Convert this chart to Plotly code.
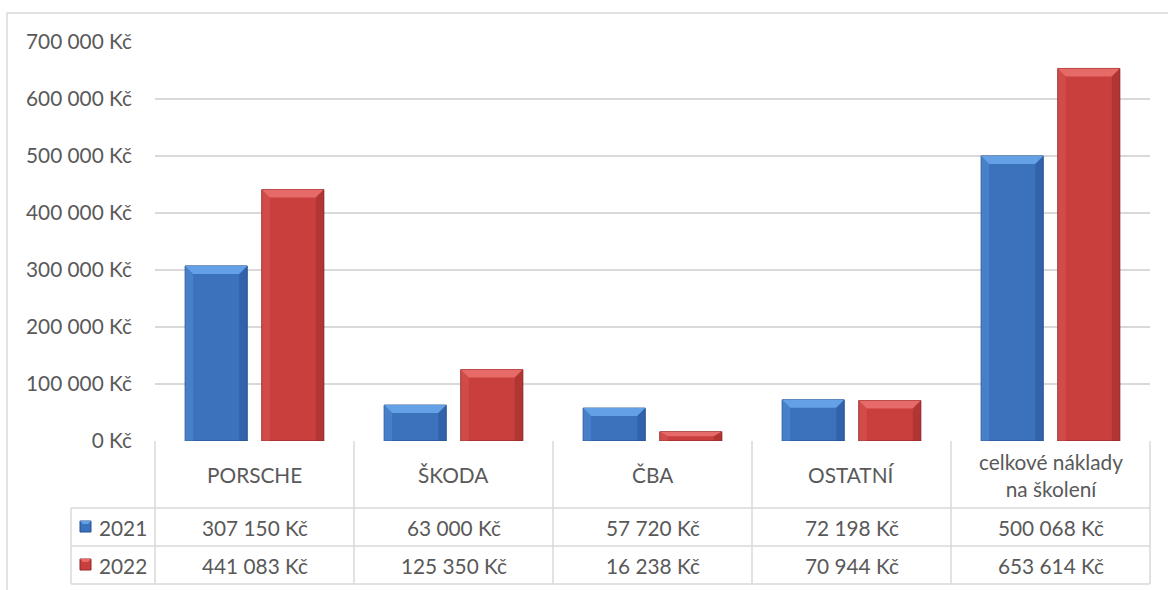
import plotly.graph_objects as go

W, H = 1168, 590

categories = ["PORSCHE", "ŠKODA", "ČBA", "OSTATNÍ", "celkové náklady<br>na školení"]
years = ["2021", "2022"]
values_2021 = [307150, 63000, 57720, 72198, 500068]
values_2022 = [441083, 125350, 16238, 70944, 653614]
y_ticks = [0, 100000, 200000, 300000, 400000, 500000, 600000, 700000]

FACE = {"2021": "#3c71bc", "2022": "#c93f3d"}
LIGHT = {"2021": "#64a0e6", "2022": "#e56a68"}
DARK = {"2021": "#24508f", "2022": "#8e2826"}
GRID = "#d9d9d9"
TEXT = "#595959"
FONT = dict(family="Lato", size=20.8, color=TEXT)

BARGAP = 0.23
GROUPGAP = 0.19

# plot area in pixels
PX_L, PX_R = 155, 1150
PX_TOP, PX_ZERO = 42, 441
ROW1, ROW2, ROW3 = 508, 546, 584
KEY_L = 71


def fx(x):
    return x / W


def fy(y):
    return 1 - y / H


def money(v):
    return f"{v:,}".replace(",", " ") + " Kč"


fig = go.Figure()
series = {"2021": values_2021, "2022": values_2022}
for yr in years:
    fig.add_trace(go.Bar(
        x=list(range(len(categories))),
        y=series[yr],
        name=yr,
        marker=dict(color=FACE[yr], line=dict(color=DARK[yr], width=1)),
        hoverinfo="y"
    ))

shapes = []

# bevel decoration on each bar
slot = (1 - BARGAP) / 2
bar_w = slot * (1 - GROUPGAP)
bev_x = 8 / ((PX_R - PX_L) / len(categories))
bev_y = 8 * 700000 / (PX_ZERO - PX_TOP)
for k, yr in enumerate(years):
    for i, v in enumerate(series[yr]):
        c = i + (k - 0.5) * slot
        x0, x1 = c - bar_w / 2, c + bar_w / 2
        b = min(bev_y, v / 2)
        bx = min(bev_x, bar_w / 4)
        # top facet
        shapes.append(dict(
            type="path", xref="x", yref="y", layer="above", line=dict(width=0),
            fillcolor=LIGHT[yr],
            path=f"M {x0},{v} L {x1},{v} L {x1 - bx},{v - b} L {x0 + bx},{v - b} Z"))
        # right facet
        shapes.append(dict(
            type="path", xref="x", yref="y", layer="above", line=dict(width=0),
            fillcolor=DARK[yr], opacity=0.4,
            path=f"M {x1},{v} L {x1},0 L {x1 - bx},0 L {x1 - bx},{v - b} Z"))
        # left facet
        shapes.append(dict(
            type="path", xref="x", yref="y", layer="above", line=dict(width=0),
            fillcolor=LIGHT[yr], opacity=0.3,
            path=f"M {x0},{v} L {x0},0 L {x0 + bx},0 L {x0 + bx},{v - b} Z"))

# outer chart frame
shapes.append(dict(type="rect", xref="paper", yref="paper",
                   x0=fx(7), x1=fx(W + 20), y0=fy(H + 20), y1=fy(13),
                   line=dict(color=GRID, width=1.5), layer="below"))

# data table lines
line = dict(color=GRID, width=1.5)
col_w = (PX_R - PX_L) / len(categories)
for j in range(len(categories) + 1):
    xp = PX_L + j * col_w
    shapes.append(dict(type="line", xref="paper", yref="paper",
                       x0=fx(xp), x1=fx(xp), y0=fy(PX_ZERO), y1=fy(ROW3), line=line))
shapes.append(dict(type="line", xref="paper", yref="paper",
                   x0=fx(KEY_L), x1=fx(KEY_L), y0=fy(ROW1), y1=fy(ROW3), line=line))
for yp in (ROW1, ROW2, ROW3):
    shapes.append(dict(type="line", xref="paper", yref="paper",
                       x0=fx(KEY_L), x1=fx(PX_R), y0=fy(yp), y1=fy(yp), line=line))

annotations = []
for j, cat in enumerate(categories):
    cx = PX_L + (j + 0.5) * col_w
    annotations.append(dict(x=fx(cx), y=fy((PX_ZERO + ROW1) / 2), xref="paper", yref="paper",
                            xanchor="center", yanchor="middle",
                            text=cat, showarrow=False, font=FONT, align="center"))
    for yr, (r0, r1) in zip(years, [(ROW1, ROW2), (ROW2, ROW3)]):
        annotations.append(dict(x=fx(cx), y=fy((r0 + r1) / 2), xref="paper", yref="paper",
                                xanchor="center", yanchor="middle",
                                text=money(series[yr][j]), showarrow=False, font=FONT))

# legend keys in the table
for yr, (r0, r1) in zip(years, [(ROW1, ROW2), (ROW2, ROW3)]):
    mid = (r0 + r1) / 2
    shapes.append(dict(type="rect", xref="paper", yref="paper",
                       x0=fx(80), x1=fx(91), y0=fy(mid + 5), y1=fy(mid - 6),
                       fillcolor=FACE[yr], line=dict(color=DARK[yr], width=1)))
    shapes.append(dict(type="path", xref="paper", yref="paper", line=dict(width=0),
                       fillcolor=LIGHT[yr],
                       path=f"M {fx(80)},{fy(mid - 6)} L {fx(91)},{fy(mid - 6)} "
                            f"L {fx(88)},{fy(mid - 3)} L {fx(83)},{fy(mid - 3)} Z"))
    annotations.append(dict(x=fx(97), y=fy(mid), xref="paper", yref="paper",
                            xanchor="left", yanchor="middle",
                            text=yr, showarrow=False, font=FONT))

fig.update_layout(
    width=W, height=H,
    margin=dict(l=0, r=0, t=0, b=0, autoexpand=False),
    paper_bgcolor="white",
    plot_bgcolor="white",
    font=FONT,
    showlegend=False,
    barmode="group",
    bargap=BARGAP,
    bargroupgap=GROUPGAP,
    shapes=shapes,
    annotations=annotations,
    xaxis=dict(domain=[fx(PX_L), fx(PX_R)], range=[-0.5, len(categories) - 0.5],
               showticklabels=False, showgrid=False, zeroline=False, showline=False,
               automargin=False),
    yaxis=dict(domain=[fy(PX_ZERO), fy(PX_TOP)], range=[0, 700000],
               tickvals=y_ticks, ticktext=[money(v) for v in y_ticks],
               showgrid=True, gridcolor=GRID, gridwidth=1.5, zeroline=False,
               ticks="", ticklabelstandoff=22, tickfont=FONT, automargin=False)
)

fig.write_html("out.html", config={"displayModeBar": False},
               post_script="document.body.style.margin='0';document.body.style.overflow='hidden';")
